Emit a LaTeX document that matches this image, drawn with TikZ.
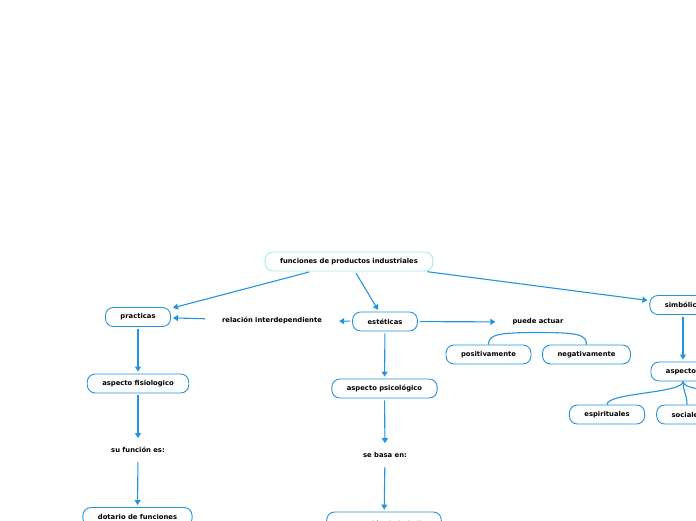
\documentclass[tikz,border=0pt]{standalone}
\usepackage{fontspec}
\setmainfont{DejaVu Sans}
\usetikzlibrary{arrows.meta}
\definecolor{mapblue}{HTML}{2394DE}
\definecolor{rootline}{HTML}{A8ECE4}
\tikzset{
  box/.style={draw=mapblue, line width=0.9pt, rounded corners=8pt, fill=white,
    minimum height=19pt, inner xsep=15pt, inner ysep=2pt,
    font=\bfseries\fontsize{6.8}{7}\selectfont},
  word/.style={inner xsep=15pt, inner ysep=7pt,
    font=\bfseries\fontsize{6.8}{7}\selectfont},
  link/.style={draw=mapblue, line width=1.1pt, shorten >=2pt, shorten <=2pt,
    -{Triangle[length=5pt,width=6pt]}},
  branch/.style={draw=mapblue, line width=1.1pt},
}
\begin{document}
\begin{tikzpicture}[x=1pt,y=-1pt]
\useasboundingbox (0,0) rectangle (696,520);
\clip (0,0) rectangle (696,520);
% top
\node[box, draw=rootline] (root) at (349,261.5) {funciones de productos industriales};
% left branch
\node[box] (prac) at (138,317) {practicas};
\node[word] (rel) at (272,320.5) {relación interdependiente};
\node[box] (fis) at (138,383.5) {aspecto fisiologico};
\node[word] (sfe) at (138,450) {su función es:};
\node[box] (dot) at (137.5,517) {dotario de funciones};
% middle branch
\node[box] (est) at (385,321.5) {estéticas};
\node[word] (pa) at (538,322) {puede actuar};
\node[box] (pos) at (488.5,354.5) {positivamente};
\node[box] (neg) at (586.5,354.5) {negativamente};
\node[box] (psi) at (384.5,388.5) {aspecto psicológico};
\node[word] (sbe) at (385,455) {se basa en:};
\node[box, minimum height=24pt] (per) at (384,524) {percepción de lo bello};
% right branch
\node[box] (sim) at (683,305) {simbólica};
\node[box] (asp) at (683,371.5) {aspectos};
\node[box] (esp) at (607,414.5) {espirituales};
\node[box] (soc) at (687,414.5) {sociales};
\coordinate (more) at (770,392);
% links
\path[draw,link] (root) -- (prac);
\path[draw,link] (root) -- (est);
\path[draw,link] (root) -- (sim);
\path[draw,link] (rel) -- (prac);
\path[draw,link] (est) -- (rel);
\path[draw,link] (est) -- (pa);
\path[draw,link] (prac) -- (fis);
\path[draw,link] (fis) -- (sfe);
\path[draw,link] (sfe) -- (dot);
\path[draw,link] (est) -- (psi);
\path[draw,link] (psi) -- (sbe);
\path[draw,link] (sbe) -- (per);
\path[draw,link] (sim) -- (asp);
% branches
\path[draw,branch] (pa.south) .. controls +(-40,0) and +(0,-10) .. (pos.north);
\path[draw,branch] (pa.south) .. controls +(40,0) and +(0,-10) .. (neg.north);
\path[draw,branch] (asp.south) .. controls +(0,12) and +(0,-12) .. (esp.north);
\path[draw,branch] (asp.south) .. controls +(0,10) and +(0,-10) .. (soc.north);
\path[draw,branch] (asp.south) .. controls +(0,9) and +(-50,0) .. (more);
\end{tikzpicture}
\end{document}
